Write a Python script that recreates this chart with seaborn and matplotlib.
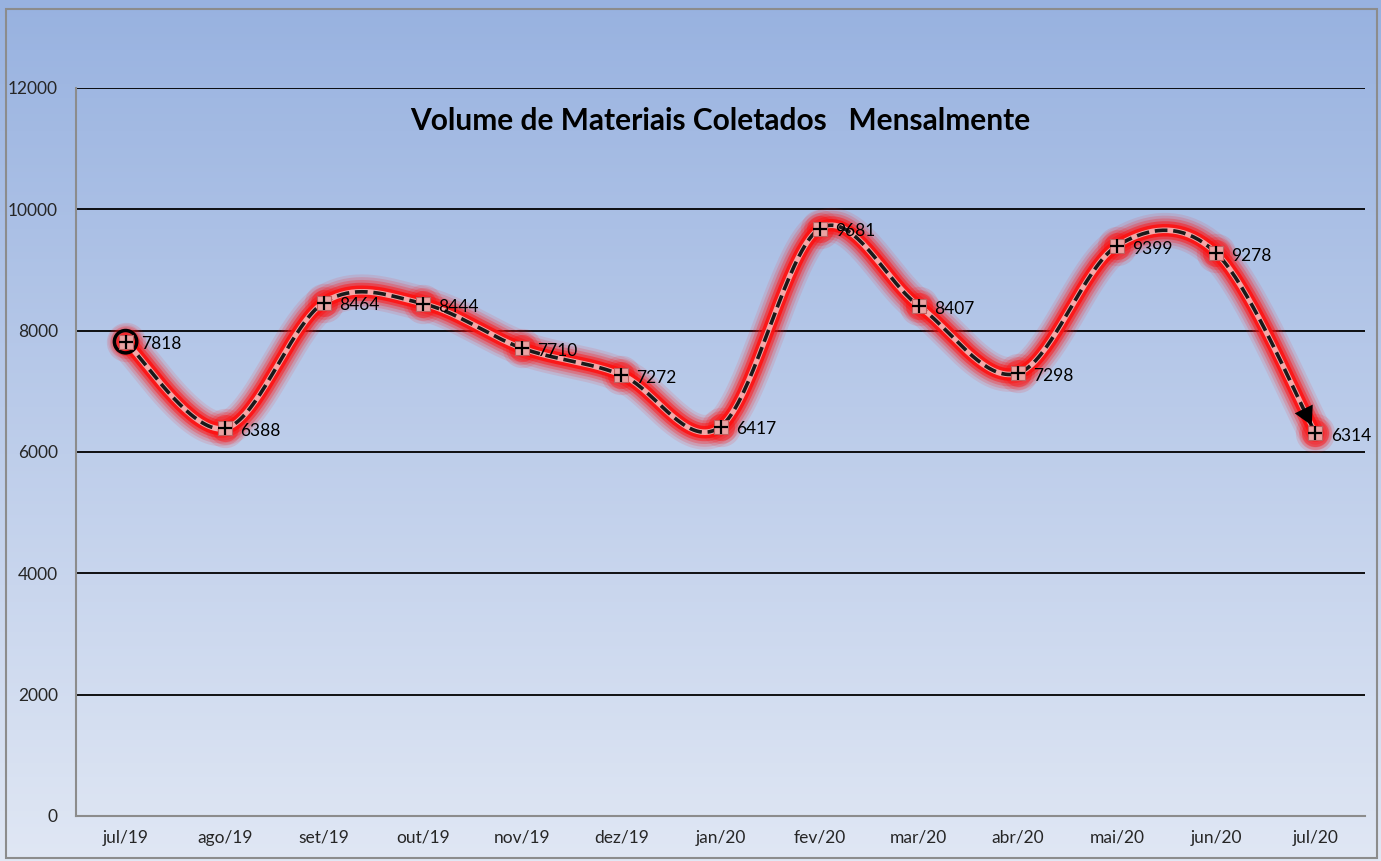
import numpy as np
import pandas as pd
import matplotlib
matplotlib.use('Agg')
import matplotlib.pyplot as plt
import seaborn as sns

# dados
meses = ['jul/19', 'ago/19', 'set/19', 'out/19', 'nov/19', 'dez/19', 'jan/20',
         'fev/20', 'mar/20', 'abr/20', 'mai/20', 'jun/20', 'jul/20']
volume = [7818, 6388, 8464, 8444, 7710, 7272, 6417, 9681, 8407, 7298, 9399, 9278, 6314]
titulo = 'Volume de Materiais Coletados   Mensalmente'

df = pd.DataFrame({'mes': meses, 'volume': volume})
df['x'] = np.arange(len(df))

sns.set_theme(style='white')
plt.rcParams['font.family'] = ['Lato', 'DejaVu Sans']

fig = plt.figure(figsize=(13.81, 8.61), dpi=100)

# fundo em degrade (estilo Excel)
bg = fig.add_axes([0, 0, 1, 1], zorder=-10)
top = np.array([152, 178, 224]) / 255
bot = np.array([224, 231, 244]) / 255
t = np.linspace(0, 1, 256)[:, None]
grad = (top * (1 - t) + bot * t)[:, None, :]
bg.imshow(grad, aspect='auto', extent=[0, 1, 0, 1], origin='upper')
bg.add_patch(plt.Rectangle((0.004, 0.003), 0.993, 0.986, fill=False,
                           edgecolor='#8c8c8c', lw=1.5))
bg.set_xlim(0, 1); bg.set_ylim(0, 1); bg.axis('off')

ax = fig.add_axes([76 / 1381, 1 - 816 / 861, (1365 - 76) / 1381, (816 - 88) / 861])
ax.set_facecolor('none')

# curva suavizada (bezier estilo Excel)
def suaviza(x, y, n=40):
    p = np.column_stack([x, y]).astype(float)
    pts = []
    for i in range(len(p) - 1):
        p0 = p[i - 1] if i > 0 else p[i]
        p1, p2 = p[i], p[i + 1]
        p3 = p[i + 2] if i + 2 < len(p) else p[i + 1]
        c1 = p1 + (p2 - p0) / 6
        c2 = p2 - (p3 - p1) / 6
        s = np.linspace(0, 1, n)[:, None]
        b = ((1 - s) ** 3) * p1 + 3 * ((1 - s) ** 2) * s * c1 + 3 * (1 - s) * s ** 2 * c2 + s ** 3 * p2
        pts.append(b if i == 0 else b[1:])
    return np.vstack(pts)

curva = suaviza(df['x'], df['volume'])

# brilho vermelho
for w, a in [(25, 0.10), (21, 0.16), (17, 0.25), (13, 0.45), (9, 0.85)]:
    ax.plot(curva[:, 0], curva[:, 1], color='#ff1010', lw=w, alpha=a,
            solid_capstyle='round', solid_joinstyle='round', zorder=2)
for sz, a in [(800, 0.12), (560, 0.2), (380, 0.4)]:
    ax.scatter(df['x'], df['volume'], s=sz, color='#ff1010', alpha=a, lw=0, zorder=2)

ax.plot(curva[:, 0], curva[:, 1], color='#f3a8a8', lw=4, zorder=3)
ax.plot(curva[:, 0], curva[:, 1], color='#1a1a1a', lw=2.6, dashes=(3.5, 1.6), zorder=4)

# seta final
ax.annotate('', xy=(curva[-1, 0], curva[-1, 1]), xytext=(curva[-12, 0], curva[-12, 1]),
            arrowprops=dict(arrowstyle='-|>,head_length=1.1,head_width=0.6',
                            color='black', lw=0, shrinkA=0, shrinkB=6), zorder=6)
# circulo inicial
ax.scatter([df['x'][0]], [df['volume'][0]], s=260, facecolor='none',
           edgecolor='black', lw=2.5, zorder=5)

sns.scatterplot(data=df, x='x', y='volume', marker='s', s=110, color='#e9a3a3',
                edgecolor='#c06060', linewidth=0.8, ax=ax, zorder=6, legend=False)
sns.scatterplot(data=df, x='x', y='volume', marker='+', s=110, color='black',
                linewidth=1.6, ax=ax, zorder=7, legend=False)

for xi, yi in zip(df['x'], df['volume']):
    ax.annotate(str(yi), (xi, yi), xytext=(11, -2), textcoords='offset points',
                ha='left', va='center', fontsize=12.5, color='black', zorder=8)

ax.set_xlim(-0.5, len(meses) - 0.5)
ax.set_ylim(0, 12000)
ax.set_yticks(range(0, 12001, 2000))
ax.set_xticks(df['x'])
ax.set_xticklabels(meses)
ax.set_xticks(np.arange(-0.5, len(meses), 1), minor=True)
ax.tick_params(axis='x', which='major', length=0, pad=10, labelsize=12.5)
ax.tick_params(axis='x', which='minor', length=5, color='#8c8c8c', width=1.2, direction='out')
ax.tick_params(axis='y', length=5, color='#8c8c8c', width=1.2, direction='out', pad=8, labelsize=12.5)
ax.set_xlabel('')
ax.set_ylabel('')
for yv in range(2000, 12001, 2000):
    ax.axhline(yv, color='black', lw=1.3, zorder=1)
for s in ['top', 'right']:
    ax.spines[s].set_visible(False)
for s in ['left', 'bottom']:
    ax.spines[s].set_color('#8c8c8c')
    ax.spines[s].set_linewidth(1.5)

ax.text(0.5, 0.955, titulo, transform=ax.transAxes, ha='center', va='center',
        fontsize=21.5, fontweight='bold', color='black')

fig.savefig('out.png', dpi=100)
